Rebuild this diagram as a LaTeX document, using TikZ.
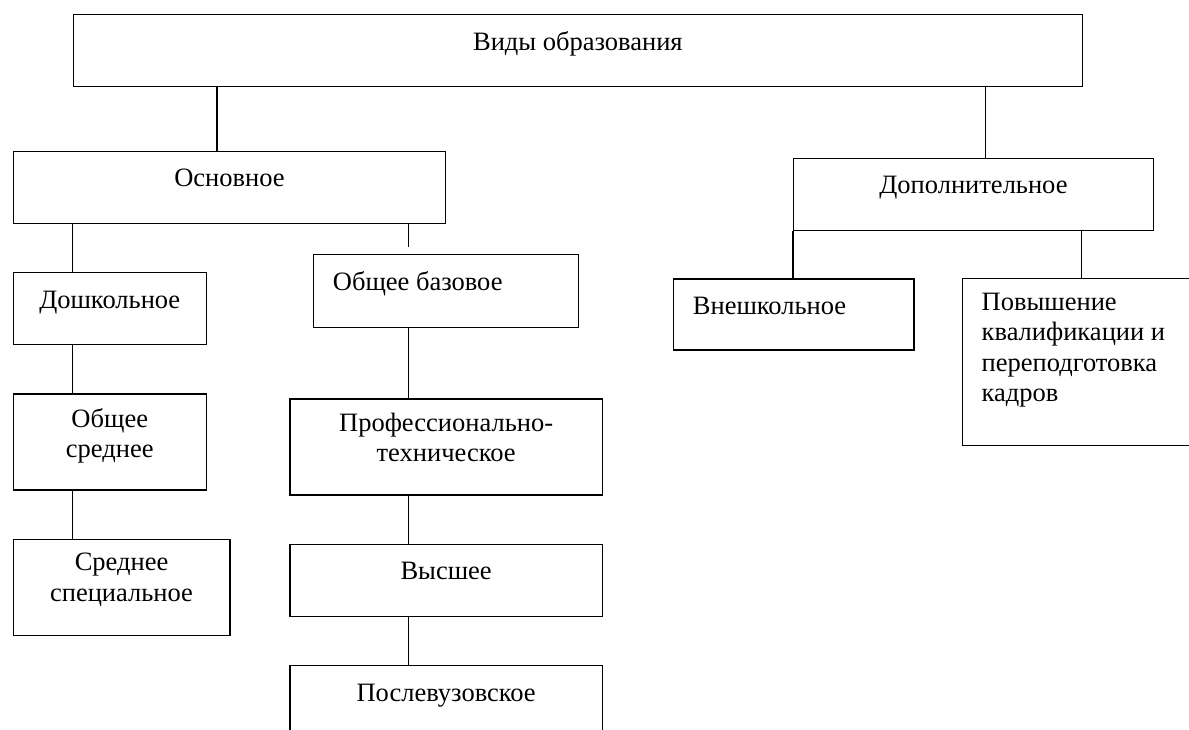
\documentclass[tikz,border=0pt]{standalone}
\usepackage{fontspec}
\setmainfont{Liberation Serif}
\usetikzlibrary{positioning}
\begin{document}
\begin{tikzpicture}[x=1pt, y=-1pt]
\tikzstyle{box} = [draw, line width=1.3pt, rectangle, inner sep=0pt, anchor=north west]
\tikzstyle{onerow} = [box, minimum height=72pt]
\tikzstyle{tworow} = [box, minimum height=96pt]
\tikzstyle{boxtext} = [inner sep=0pt, font=\fontsize{26.5}{30.5}\selectfont, align=center, execute at begin node=\strut]
\tikzstyle{stem} = [line width=1.3pt]

\useasboundingbox (0,0) rectangle (1189,729);
\clip (0,0) rectangle (1189,729);

%top
\node (top)[onerow, minimum width=1009pt] at (72.7,14) {};
\node (toptext)[boxtext, below = 14.6pt of top.north]{Виды образования};

%%main branch
\node (osn)[onerow, minimum width=432.4pt] at (12.6,150.7) {};
\node (osntext)[boxtext, below = 14.6pt of osn.north]{Основное};

\node (dosh)[onerow, minimum width=193pt, below = 48pt of osn.south west, anchor=north west]{};
\node (obsr)[tworow, minimum width=193pt, below = 48pt of dosh.south west, anchor=north west]{};
\node (srsp)[tworow, minimum width=216.6pt, below = 48pt of obsr.south west, anchor=north west]{};
\node (doshtext)[boxtext, below = 14.6pt of dosh.north]{Дошкольное};
\node (obsrtext)[boxtext, below = 14.6pt of obsr.north]{Общее\\среднее};
\node (srsptext)[boxtext, below = 14.6pt of srsp.north]{Среднее\\специальное};

\node (obbaz)[onerow, minimum width=265pt, minimum height=72.7pt] at (312.7,254) {};
\node (prof)[tworow, minimum width=312.4pt] at (289.3,398.3) {};
\node (vys)[onerow, minimum width=312.4pt, below = 48pt of prof.south west, anchor=north west]{};
\node (posl)[onerow, minimum width=312.4pt, minimum height=90pt, below = 48pt of vys.south west, anchor=north west]{};
\node (obbaztext)[boxtext, align=left, below right = 14.6pt and 20pt of obbaz.north west]{Общее базовое};
\node (proftext)[boxtext, below = 14.6pt of prof.north]{Профессионально-\\техническое};
\node (vystext)[boxtext, below = 14.6pt of vys.north]{Высшее};
\node (posltext)[boxtext, below = 14.6pt of posl.north]{Послевузовское};

%%extra branch
\node (dop)[onerow, minimum width=359.7pt] at (793,157.7) {};
\node (doptext)[boxtext, below = 14.6pt of dop.north]{Дополнительное};
\node (vne)[onerow, minimum width=240.6pt, minimum height=71pt] at (672.7,278.3) {};
\node (pov)[box, minimum width=240pt, minimum height=167pt] at (961.5,278) {};
\node (vnetext)[boxtext, align=left, below right = 14.6pt and 20pt of vne.north west]{Внешкольное};
\node (povtext)[boxtext, align=left, below right = 14.6pt and 20pt of pov.north west]{Повышение\\квалификации и\\переподготовка\\кадров};

%connectors
\coordinate (osnstem) at (217,0);
\coordinate (dopstem) at (985.3,0);
\coordinate (leftstem) at (72.3,0);
\coordinate (midstem) at (408.8,0);
\coordinate (povstem) at (1081.7,0);
\coordinate (loose) at (408.3,246.7);

\draw [stem] (top.south -| osnstem) -- (osn.north -| osnstem);
\draw [stem] (top.south -| dopstem) -- (dop.north -| dopstem);
\draw [stem] (osn.south -| leftstem) -- (dosh.north -| leftstem);
\draw [stem] (dosh.south -| leftstem) -- (obsr.north -| leftstem);
\draw [stem] (obsr.south -| leftstem) -- (srsp.north -| leftstem);
\draw [stem] (osn.south -| loose) -- (loose);
\draw [stem] (obbaz.south -| midstem) -- (prof.north -| midstem);
\draw [stem] (prof.south -| midstem) -- (vys.north -| midstem);
\draw [stem] (vys.south -| midstem) -- (posl.north -| midstem);
\draw [stem] (dop.south west) -- (vne.north -| dop.south west);
\draw [stem] (dop.south -| povstem) -- (pov.north -| povstem);

\end{tikzpicture}
\end{document}
